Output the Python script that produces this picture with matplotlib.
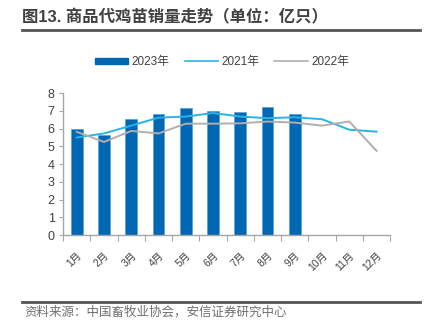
import numpy as np
import matplotlib
matplotlib.use("Agg")
import matplotlib.pyplot as plt
from matplotlib.lines import Line2D

plt.rcParams['font.family'] = ['Liberation Sans', 'Noto Sans CJK SC', 'DejaVu Sans']

# monthly chick sales (100 million birds)
months = ["1月", "2月", "3月", "4月", "5月", "6月", "7月", "8月", "9月", "10月", "11月", "12月"]
sales_2023 = [5.98, 5.65, 6.57, 6.82, 7.17, 6.98, 6.92, 7.22, 6.8]
sales_2021 = [5.5, 5.73, 6.17, 6.62, 6.68, 6.88, 6.68, 6.59, 6.64, 6.53, 5.94, 5.83]
sales_2022 = [5.82, 5.25, 5.87, 5.73, 6.28, 6.28, 6.3, 6.4, 6.34, 6.17, 6.4, 4.75]

bar_color = "#0068B2"
c2021 = "#2AB3E6"
c2022 = "#B3AEAE"
axis_gray = "#A6A6A6"
text_gray = "#404040"

fig = plt.figure(figsize=(4.35, 3.35), dpi=100)
ax = fig.add_axes([0.145, 0.298, 0.752, 0.424])

x = np.arange(len(months))
ax.bar(x[:len(sales_2023)], sales_2023, width=0.43, color=bar_color,
       edgecolor="#5FA3D6", linewidth=0.6, label="2023年", zorder=2)
ax.plot(x, sales_2021, color=c2021, lw=1.4, label="2021年", zorder=3)
ax.plot(x, sales_2022, color=c2022, lw=1.4, label="2022年", zorder=3)

ax.set_xlim(-0.5, len(months) - 0.5)
ax.set_ylim(0, 8)
ax.set_yticks(range(0, 9))

# tick marks between months, labels at month centres
ax.set_xticks(np.arange(-0.5, len(months), 1.0))
ax.set_xticklabels([])
ax.set_xticks(x, minor=True)
ax.set_xticklabels(months, minor=True, rotation=45, ha="right", va="top",
                   rotation_mode="anchor", fontsize=7.5, color=text_gray)
ax.tick_params(axis="x", which="major", length=4, color=axis_gray, direction="out")
ax.tick_params(axis="x", which="minor", length=0, pad=11)
ax.tick_params(axis="y", length=3, color=axis_gray, labelsize=9,
               labelcolor=text_gray, pad=3)

for side in ["top", "right"]:
    ax.spines[side].set_visible(False)
for side in ["left", "bottom"]:
    ax.spines[side].set_color(axis_gray)
    ax.spines[side].set_linewidth(1.0)

handles = [
    plt.Rectangle((0, 0), 1, 1, color=bar_color),
    Line2D([0], [0], color=c2021, lw=1.2),
    Line2D([0], [0], color=c2022, lw=1.2),
]
fig.legend(handles, ["2023年", "2021年", "2022年"], loc="center",
           bbox_to_anchor=(0.51, 0.815), ncol=3, frameon=False, fontsize=8.5,
           handlelength=2.8, handleheight=0.45, columnspacing=1.3,
           handletextpad=0.3, labelcolor=text_gray)

# header and footer
fig.text(0.05, 0.948, "图13. 商品代鸡苗销量走势（单位：亿只）", fontsize=11.8,
         fontweight="bold", color=text_gray, va="center", ha="left")
fig.add_artist(Line2D([0.05, 0.966], [0.91, 0.91], color="#555555", lw=2.0))
fig.add_artist(Line2D([0.05, 0.966], [0.099, 0.099], color="#555555", lw=2.0))
fig.text(0.055, 0.068, "资料来源：中国畜牧业协会，安信证券研究中心", fontsize=9,
         color="#707070", va="center", ha="left", style="italic")

fig.savefig("out.png", dpi=100)
